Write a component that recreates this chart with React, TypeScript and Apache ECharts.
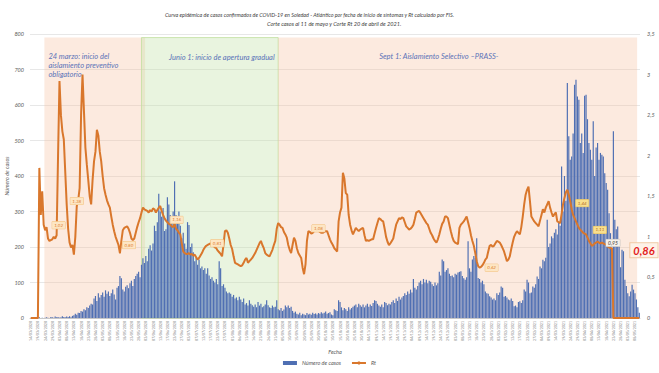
import React, { useEffect, useRef } from "react";
import * as echarts from "echarts";

// ---------- data ----------
const titulo1 =
  "Curva epidémica de casos confirmados de COVID-19 en Soledad - Atlántico por fecha de inicio de síntomas y Rt calculado por FIS.";
const titulo2 = "Corte casos al 11 de mayo y Corte Rt 20 de abril de 2021.";

const fechaInicio = { year: 2020, month: 3, day: 14 };

// Número de casos por fecha de inicio de síntomas (14/03/2020 - 11/05/2021)
const casos = [
  0, 0, 0, 1, 0, 0, 2, 0, 1,
  0, 1, 2, 1, 0, 3, 2, 1, 4, 2,
  3, 1, 2, 5, 3, 2, 4, 3, 5, 2,
  6, 8, 12, 9, 15, 14, 20, 18, 25, 22,
  30, 28, 35, 40, 38, 55, 62, 48, 70, 58,
  65, 72, 60, 78, 68, 75, 62, 70, 80, 66,
  52, 85, 90, 118, 112, 80, 75, 88, 92, 84,
  98, 105, 90, 110, 118, 125, 130, 115, 150, 168,
  155, 175, 160, 195, 205, 190, 210, 260, 245, 270,
  350, 300, 285, 310, 245, 250, 340, 320, 290, 270,
  300, 385, 290, 270, 300, 260, 225, 240, 210, 195,
  270, 262, 200, 210, 185, 160, 170, 150, 165, 140,
  145, 135, 140, 125, 140, 120, 110, 115, 105, 100,
  110, 95, 160, 140, 90, 95, 85, 75, 70, 72,
  68, 60, 65, 55, 58, 50, 60, 52, 45, 55,
  38, 42, 35, 50, 40, 36, 32, 38, 30, 45,
  35, 40, 30, 33, 38, 50, 36, 30, 28, 35,
  30, 32, 50, 25, 22, 28, 20, 24, 35, 30,
  35, 28, 32, 20, 15, 18, 12, 10, 15, 8,
  12, 10, 8, 14, 10, 12, 9, 15, 11, 13,
  10, 14, 12, 16, 13, 15, 18, 12, 14, 16,
  10, 8, 25, 22, 20, 50, 45, 30, 22, 28,
  25, 20, 30, 24, 28, 32, 35, 38, 30, 40,
  36, 32, 38, 30, 35, 40, 32, 38, 34, 42,
  50, 48, 40, 35, 32, 38, 30, 45, 42, 36,
  40, 38, 45, 50, 42, 55, 48, 60, 52, 58,
  62, 70, 65, 75, 68, 80, 72, 110, 85, 80,
  90, 100, 105, 95, 110, 100, 108, 98, 105, 102,
  95, 90, 100, 92, 98, 130, 120, 165, 160, 130,
  135, 140, 125, 118, 120, 115, 125, 122, 128, 130,
  132, 118, 112, 108, 115, 216, 140, 130, 165, 175,
  170, 225, 113, 110, 100, 105, 95, 75, 70, 68,
  61, 58, 52, 55, 50, 70, 65, 72, 89, 85,
  60, 62, 58, 52, 50, 55, 48, 33, 35, 30,
  45, 47, 42, 50, 80, 75, 108, 100, 70, 72,
  89, 85, 95, 117, 110, 145, 140, 164, 160, 170,
  277, 200, 210, 230, 225, 240, 250, 235, 268, 260,
  427, 300, 400, 330, 662, 512, 446, 455, 520, 657,
  671, 624, 615, 493, 520, 465, 626, 629, 560, 493,
  474, 446, 554, 400, 480, 493, 446, 465, 460, 455,
  408, 380, 361, 295, 239, 192, 526, 277, 250, 258,
  200, 143, 192, 188, 108, 90, 70, 61, 75, 94,
  80, 70, 52, 30, 15,
];

// Rt (0 después del corte)
const rt = [
  0, 0, 0, 0, 0, 0, 1.85, 1.27, 1.56,
  1.15, 1.08, 1.12, 0.98, 0.95, 0.96, 0.97, 1.0, 0.98, 1.02,
  2.0, 2.92, 2.5, 2.3, 2.2, 1.8, 1.4, 1.1, 0.93, 0.87,
  0.9, 0.78, 1.0, 1.38, 1.45, 1.6, 2.5, 3.0, 2.55, 2.1,
  1.89, 1.7, 1.5, 1.4, 1.7, 1.93, 2.05, 2.32, 2.25, 2.05,
  1.93, 1.75, 1.6, 1.52, 1.45, 1.4, 1.36, 1.25, 1.15, 1.07,
  1.0, 0.95, 0.9, 0.8, 0.95, 1.08, 1.11, 1.12, 1.13, 1.1,
  1.05, 0.98, 0.96, 0.98, 1.05, 1.12, 1.18, 1.23, 1.3, 1.36,
  1.34, 1.33, 1.32, 1.3, 1.33, 1.31, 1.35, 1.34, 1.3, 1.33,
  1.36, 1.38, 1.32, 1.27, 1.23, 1.2, 1.18, 1.16, 1.15, 1.13,
  1.12, 1.16, 1.1, 1.08, 1.05, 1.03, 0.92, 0.82, 0.8, 0.79,
  0.79, 0.8, 0.78, 0.79, 0.77, 0.78, 0.75, 0.72, 0.74, 0.77,
  0.8, 0.84, 0.87, 0.89, 0.9, 0.91, 0.92, 0.91, 0.89, 0.87,
  0.86, 0.83, 0.81, 0.79, 0.76, 0.9, 1.07, 1.08, 1.05, 0.98,
  0.9, 0.85, 0.76, 0.68, 0.67, 0.66, 0.65, 0.64, 0.65, 0.68,
  0.72, 0.74, 0.68, 0.7, 0.72, 0.74, 0.77, 0.8, 0.84, 0.88,
  0.92, 0.95, 0.9, 0.86, 0.8, 0.78, 0.77, 0.76, 0.8, 0.84,
  0.9, 0.95, 1.1, 1.17, 1.15, 1.12, 1.11, 1.06, 1.03, 0.99,
  0.9, 0.84, 0.8, 0.9, 0.99, 0.95, 0.86, 0.8, 0.77, 0.74,
  0.62, 0.54, 0.66, 0.95, 1.07, 1.06, 1.04, 1.05, 1.07, 1.09,
  1.08, 1.08, 1.06, 1.05, 1.05, 1.06, 1.07, 1.07, 1.02, 0.97,
  0.93, 0.9, 0.86, 0.84, 0.82, 1.19, 1.3, 1.36, 1.79, 1.72,
  1.54, 1.52, 1.27, 1.15, 1.08, 1.03, 1.07, 1.11, 1.09, 1.07,
  1.09, 1.1, 1.11, 1.02, 0.95, 0.96, 0.95, 0.96, 0.97, 0.97,
  1.04, 1.11, 1.17, 1.23, 1.22, 1.2, 1.19, 1.1, 1.0, 0.94,
  0.9, 0.92, 0.95, 0.98, 1.07, 1.15, 1.19, 1.23, 1.22, 1.24,
  1.23, 1.18, 1.13, 1.11, 1.09, 1.1, 1.12, 1.15, 1.22, 1.3,
  1.31, 1.32, 1.29, 1.26, 1.23, 1.2, 1.17, 1.15, 1.1, 1.05,
  1.02, 0.98, 0.95, 0.93, 0.97, 1.03, 1.1, 1.16, 1.19, 1.25,
  1.25, 1.23, 1.15, 1.07, 1.0, 0.95, 0.93, 0.92, 0.91, 1.11,
  1.15, 1.17, 1.19, 1.22, 1.25, 1.18, 1.11, 1.02, 0.95, 0.89,
  0.8, 0.7, 0.64, 0.62, 0.63, 0.65, 0.68, 0.72, 0.74, 0.82,
  0.89, 0.9, 0.88, 0.89, 0.92, 0.95, 0.94, 0.93, 0.9, 0.86,
  0.82, 0.76, 0.7, 0.72, 0.76, 0.85, 0.93, 1.0, 1.04, 1.07,
  1.05, 1.03, 1.12, 1.25, 1.4, 1.52, 1.58, 1.62, 1.44, 1.25,
  1.22, 1.19, 1.17, 1.15, 1.13, 1.2, 1.27, 1.34, 1.3, 1.36,
  1.4, 1.44, 1.36, 1.3, 1.25, 1.28, 1.3, 1.19, 1.18, 1.17,
  1.28, 1.4, 1.48, 1.55, 1.58, 1.52, 1.44, 1.34, 1.27, 1.23,
  1.19, 1.15, 1.11, 1.09, 1.07, 1.05, 1.04, 1.03, 0.99, 0.95,
  0.92, 0.89, 0.9, 0.92, 0.93, 0.94, 0.93, 0.92, 0.93, 0.92,
  0.91, 0.9, 0.88, 0.87, 0.86, 0.86, 0, 0, 0, 0,
  0, 0, 0, 0, 0, 0, 0, 0, 0, 0,
  0, 0, 0, 0, 0,
];

// Rt points that carry a value callout (index into rt)
const rtCalloutIdx = [18, 32, 62, 100, 131, 200, 312, 375, 381, 388, 404];

// Periods
const periodos = [
  { desde: 10, hasta: 79, nombre: "24 marzo: inicio del\naislamiento preventivo\nobligatorio", tipo: "naranja" },
  { desde: 79, hasta: 171, nombre: "Junio 1: inicio de apertura gradual", tipo: "verde" },
  { desde: 171, hasta: 423, nombre: "Sept 1: Aislamiento Selectivo \u2013PRASS-", tipo: "naranja" },
];

// ---------- layout / style (kept apart from data) ----------
const FONT = "Lato, 'Open Sans', sans-serif";
const calloutLayout: Record<number, { dx: number; dy: number; kind: string }> = {
  18: { dx: 2, dy: -10, kind: "o" },
  32: { dx: 0, dy: -5, kind: "o" },
  62: { dx: 9, dy: -8, kind: "o" },
  100: { dx: 2, dy: -4, kind: "o" },
  131: { dx: -2, dy: -9, kind: "o" },
  200: { dx: 0, dy: -2, kind: "o" },
  312: { dx: 12, dy: 0, kind: "o" },
  375: { dx: 12, dy: 2, kind: "y" },
  381: { dx: 21, dy: 2, kind: "y" },
  388: { dx: 24, dy: 2, kind: "g" },
  404: { dx: 32, dy: 2, kind: "big" },
};
const areaLabelOffset = [
  [-1, 9],
  [23, 11],
  [96, 9],
];

function pad(n: number) {
  return n < 10 ? "0" + n : "" + n;
}
function fmt(v: number) {
  return (Math.round(v * 100) / 100).toFixed(2).replace(".", ",");
}

const fechas: string[] = casos.map((_, i) => {
  const d = new Date(fechaInicio.year, fechaInicio.month - 1, fechaInicio.day + i);
  return `${pad(d.getDate())}/${pad(d.getMonth() + 1)}/${d.getFullYear()}`;
});

function calloutLabel(idx: number) {
  const l = calloutLayout[idx];
  const base: any = {
    show: true,
    position: "inside",
    offset: [l.dx, l.dy],
    formatter: (p: any) => fmt(p.value),
    fontFamily: FONT,
    fontStyle: "italic",
  };
  if (l.kind === "big") {
    return {
      ...base,
      fontSize: 11,
      fontWeight: "bold",
      color: "#e3211c",
      backgroundColor: "#fdf2e8",
      borderColor: "#f0c9a4",
      borderWidth: 1,
      padding: [2, 3, 1, 3],
    };
  }
  if (l.kind === "g") {
    return {
      ...base,
      fontSize: 5,
      color: "#3a3a3a",
      backgroundColor: "#f6f1ea",
      borderColor: "#b8b8b8",
      borderWidth: 0.5,
      padding: [1, 2],
    };
  }
  if (l.kind === "y") {
    return {
      ...base,
      fontSize: 4.5,
      color: "#b0661c",
      backgroundColor: "#f8df8e",
      borderColor: "#e8c15a",
      borderWidth: 0.5,
      padding: [1, 2],
    };
  }
  return {
    ...base,
    fontSize: 4.5,
    color: "#e07a2a",
    backgroundColor: "#fde6c4",
    borderColor: "#f3bf7a",
    borderWidth: 0.5,
    padding: [1, 2],
  };
}

export default function App() {
  const ref = useRef<HTMLDivElement>(null);

  useEffect(() => {
    if (!ref.current) return;
    const chart = echarts.init(ref.current, undefined, { renderer: "svg" });

    const rtData = rt.map((v, i) =>
      rtCalloutIdx.includes(i)
        ? {
            value: v,
            symbol: "circle",
            symbolSize: 1,
            label: calloutLabel(i),
          }
        : v
    );

    const areaData = periodos.map((p, k) => [
      {
        xAxis: fechas[p.desde],
        yAxis: 0,
        itemStyle:
          p.tipo === "verde"
            ? { color: "rgba(196,226,172,0.38)", borderColor: "#c2dfa0", borderWidth: 0.8 }
            : { color: "rgba(247,198,166,0.36)", borderWidth: 0 },
        label: {
          show: true,
          position: "insideTopLeft",
          offset: areaLabelOffset[k],
          formatter: p.nombre,
          color: "#5b73b8",
          fontSize: 7.5,
          lineHeight: 9,
          fontStyle: "italic",
          fontFamily: FONT,
        },
      },
      { xAxis: fechas[p.hasta], yAxis: 790 },
    ]);

    const axisText = {
      fontFamily: FONT,
      fontStyle: "italic" as const,
      color: "#595959",
      fontSize: 5.5,
    };

    chart.setOption({
      animation: false,
      backgroundColor: "#ffffff",
      title: [
        {
          text: titulo1,
          left: 160,
          top: 7,
          textStyle: { fontFamily: FONT, fontStyle: "italic", fontWeight: "normal", fontSize: 5.4, color: "#404040" },
        },
        {
          text: titulo2,
          left: 262,
          top: 15,
          textStyle: { fontFamily: FONT, fontStyle: "italic", fontWeight: "normal", fontSize: 5.6, color: "#404040" },
        },
      ],
      grid: { left: 30, right: 19, top: 34, bottom: 55, containLabel: false, outerBoundsMode: "none" },
      legend: {
        bottom: 2,
        left: "center",
        itemWidth: 14,
        itemHeight: 4,
        itemGap: 10,
        textStyle: { ...axisText, fontSize: 5.5 },
        data: [{ name: "Número de casos", icon: "rect" }, { name: "Rt" }],
      },
      xAxis: {
        type: "category",
        data: fechas,
        boundaryGap: true,
        name: "Fecha",
        nameLocation: "middle",
        nameGap: 31,
        nameMoveOverlap: false,
        nameTextStyle: axisText,
        axisLine: { lineStyle: { color: "#bfbfbf", width: 0.8 } },
        axisTick: { show: false },
        axisLabel: {
          interval: 4,
          rotate: 90,
          fontSize: 3.6,
          color: "#7f7f7f",
          fontFamily: FONT,
          margin: 3,
        },
      },
      yAxis: [
        {
          type: "value",
          min: 0,
          max: 800,
          interval: 100,
          name: "Número de casos",
          nameLocation: "middle",
          nameGap: 20,
          nameMoveOverlap: false,
          nameRotate: 90,
          nameTextStyle: axisText,
          axisLine: { show: false },
          axisTick: { show: false },
          axisLabel: { ...axisText, margin: 6 },
          splitLine: { lineStyle: { color: "#dcdcdc", width: 0.7 } },
        },
        {
          type: "value",
          min: 0,
          max: 3.5,
          interval: 0.5,
          position: "right",
          axisLine: { show: false },
          axisTick: { show: false },
          splitLine: { show: false },
          axisLabel: {
            ...axisText,
            margin: 7,
            formatter: (v: number) => String(v).replace(".", ","),
          },
        },
      ],
      series: [
        {
          name: "Número de casos",
          type: "bar",
          data: casos,
          barCategoryGap: "18%",
          itemStyle: { color: "#4f6fb3" },
          markArea: { silent: true, data: areaData },
        },
        {
          name: "Rt",
          type: "line",
          yAxisIndex: 1,
          data: rtData,
          symbol: "none",
          showSymbol: true,
          showAllSymbol: true,
          lineStyle: { color: "#d9772c", width: 2 },
          itemStyle: { color: "#d9772c" },
          z: 5,
        },
      ],
    });

    return () => chart.dispose();
  }, []);

  return <div ref={ref} style={{ width: 659, height: 373, position: "absolute", left: 0, top: 0 }} />;
}
